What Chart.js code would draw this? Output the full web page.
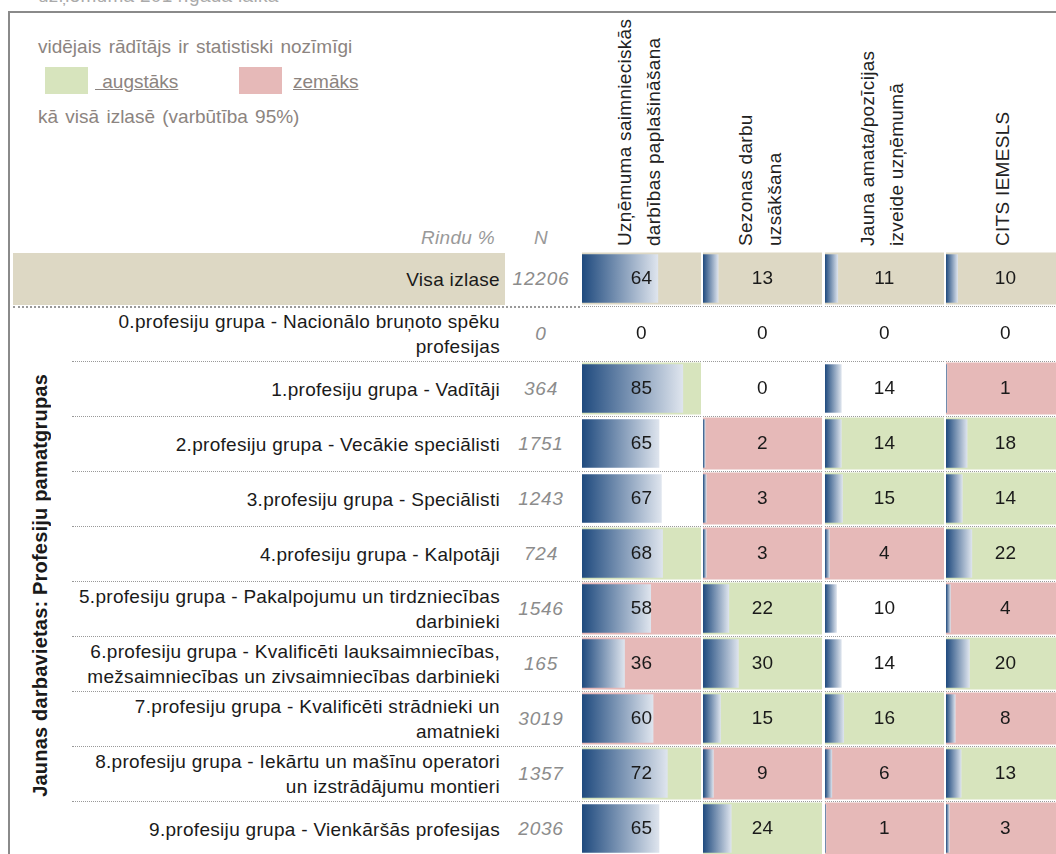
<!DOCTYPE html>
<html lang="lv">
<head>
  <meta charset="UTF-8">
  <title>Jaunas darbavietas – profesiju pamatgrupas</title>
  <script src="https://cdn.jsdelivr.net/npm/chart.js"></script>
  <style>
    /* lapa: fiksēts 1056x854 izmērs, tabulas izkārtojums ar absolūtiem blokiem */
    body {
      margin: 0;
      width: 1056px;
      height: 854px;
      position: relative;
      overflow: hidden;
      background: #fff;
      font-family: "Liberation Sans", Arial, sans-serif;
      font-size: 19px;
      letter-spacing: 0.3px;
      color: #1a1a1a;
    }
    .abs { position: absolute; white-space: nowrap; }
    .frame {
      left: 8px; top: 11px; width: 1100px; height: 900px;
      border-top: 2px solid #8a8a8a;
      border-left: 2px solid #8a8a8a;
    }
    .legend { color: #8c8480; line-height: 20px; word-spacing: 2px; letter-spacing: 0; }
    .swatch { width: 43px; height: 27px; }
    .under { text-decoration: underline; white-space: pre; }
    .muted { color: #999; font-style: italic; line-height: 20px; }
    .rowLabel {
      display: flex; align-items: center; justify-content: flex-end;
      text-align: right; line-height: 25px;
    }
    .nCell {
      display: flex; align-items: center; justify-content: center;
      color: #8c8c8c; font-style: italic; letter-spacing: 0.8px;
    }
    .dots { height: 0; border-top: 1px dotted #999; }
    .head {
      display: flex; justify-content: center; overflow: hidden;
    }
    .head div {
      writing-mode: vertical-rl;
      transform: rotate(180deg);
      line-height: 29px;
      color: #222;
      white-space: nowrap;
    }
    .side {
      display: flex; align-items: center; justify-content: center;
    }
    .side div {
      writing-mode: vertical-rl;
      transform: rotate(180deg);
      font-weight: bold;
      font-size: 20px;
      letter-spacing: 0.2px;
      white-space: nowrap;
    }
    canvas { position: absolute; }
  </style>
</head>
<body>
  <div class="abs muted" style="left:38px; top:-14px; font-style:normal; color:#aaa;">uzņēmumā 2014.gada laikā</div>
  <div class="abs frame"></div>

  <div class="abs legend" style="left:38px; top:37px;">vidējais rādītājs ir statistiski nozīmīgi</div>
  <div class="abs swatch" style="left:45px; top:67px; background:#d7e4bd;"></div>
  <div class="abs legend under" style="left:95px; top:72px;"> augstāks</div>
  <div class="abs swatch" style="left:239px; top:67px; background:#e6b9b8;"></div>
  <div class="abs legend under" style="left:293px; top:72px;">zemāks</div>
  <div class="abs legend" style="left:38px; top:107px;">kā visā izlasē (varbūtība 95%)</div>

  <div class="abs muted" style="left:300px; top:228px; width:195px; text-align:right;">Rindu %</div>
  <div class="abs muted" style="left:505px; top:228px; width:72px; text-align:center;">N</div>

  <div id="table"></div>

  <script>
    // dati nolasīti no attēla
    const rowLabels = [
      ['Visa izlase'],
      ['0.profesiju grupa - Nacionālo bruņoto spēku', 'profesijas'],
      ['1.profesiju grupa - Vadītāji'],
      ['2.profesiju grupa - Vecākie speciālisti'],
      ['3.profesiju grupa - Speciālisti'],
      ['4.profesiju grupa - Kalpotāji'],
      ['5.profesiju grupa - Pakalpojumu un tirdzniecības', 'darbinieki'],
      ['6.profesiju grupa - Kvalificēti lauksaimniecības,', 'mežsaimniecības un zivsaimniecības darbinieki'],
      ['7.profesiju grupa - Kvalificēti strādnieki un', 'amatnieki'],
      ['8.profesiju grupa - Iekārtu un mašīnu operatori', 'un izstrādājumu montieri'],
      ['9.profesiju grupa - Vienkāršās profesijas']
    ];
    const nValues = [12206, 0, 364, 1751, 1243, 724, 1546, 165, 3019, 1357, 2036];
    const sideTitle = 'Jaunas darbavietas: Profesiju pamatgrupas';

    const columnTitles = [
      ['Uzņēmuma saimnieciskās', 'darbības paplašināšana'],
      ['Sezonas darbu', 'uzsākšana'],
      ['Jauna amata/pozīcijas', 'izveide uzņēmumā'],
      ['CITS IEMESLS']
    ];
    const expansion   = [64, 0, 85, 65, 67, 68, 58, 36, 60, 72, 65];
    const seasonal    = [13, 0, 0, 2, 3, 3, 22, 30, 15, 9, 24];
    const newPosition = [11, 0, 14, 14, 15, 4, 10, 14, 16, 6, 1];
    const otherReason = [10, 0, 1, 18, 14, 22, 4, 20, 8, 13, 3];

    // nozīmīgums: v = visa izlase, g = augstāks, r = zemāks, '' = nav atšķirības
    const sigExpansion   = ['v', '', 'g', '', '', 'g', 'r', 'r', 'r', 'g', ''];
    const sigSeasonal    = ['v', '', '', 'r', 'r', 'r', 'g', 'g', 'g', 'r', 'g'];
    const sigNewPosition = ['v', '', '', 'g', 'g', 'r', '', '', 'g', 'r', 'r'];
    const sigOther       = ['v', '', 'r', 'g', 'g', 'g', 'r', 'g', 'r', 'g', 'r'];

    const columns = [
      { values: expansion, sig: sigExpansion },
      { values: seasonal, sig: sigSeasonal },
      { values: newPosition, sig: sigNewPosition },
      { values: otherReason, sig: sigOther }
    ];

    const sigColors = { v: '#ddd8c4', g: '#d7e4bd', r: '#e6b9b8', '': '#ffffff' };
    const darkBlue = '#1f4a7e';
    const lightBlue = '#dfe5ee';

    const ROW_TOP = 253, ROW_STEP = 55, CELL_H = 52;
    const colLeft = [582, 703, 825, 946];
    const COL_W = 119;

    // kreisā daļa: rindu nosaukumi, N, punktotās līnijas
    const table = document.getElementById('table');
    let html = '';
    html += `<div class="abs" style="left:13px; top:${ROW_TOP}px; width:492px; height:${CELL_H}px; background:${sigColors.v};"></div>`;
    rowLabels.forEach((lines, i) => {
      const top = ROW_TOP + i * ROW_STEP;
      html += `<div class="abs rowLabel" style="left:13px; top:${top}px; width:487px; height:${CELL_H}px;"><div>${lines.join('<br>')}</div></div>`;
      html += `<div class="abs nCell" style="left:505px; top:${top}px; width:72px; height:${CELL_H}px;">${nValues[i]}</div>`;
      if (i > 0) {
        const x0 = i === 1 ? 13 : 72;
        html += `<div class="abs dots" style="left:${x0}px; top:${top - 2}px; width:${580 - x0}px;${i === 1 ? ' border-top-width:2px;' : ''}"></div>`;
      }
    });
    html += `<div class="abs side" style="left:20px; top:308px; width:40px; height:554px;"><div>${sideTitle}</div></div>`;
    columnTitles.forEach((lines, k) => {
      html += `<div class="abs head" style="left:${colLeft[k] - 3}px; top:14px; width:${COL_W}px; height:232px;"><div>${lines.join('<br>')}</div></div>`;
    });
    table.innerHTML = html;

    // gradienta josla katrai vērtībai
    function barGradient(context) {
      const chart = context.chart;
      const x = chart.scales.x;
      if (!x || !chart.chartArea) return darkBlue;
      const x0 = x.getPixelForValue(0);
      const x1 = x.getPixelForValue(context.raw);
      const g = chart.ctx.createLinearGradient(x0, 0, Math.max(x1, x0 + 1), 0);
      g.addColorStop(0, darkBlue);
      g.addColorStop(1, lightBlue);
      return g;
    }

    // šūnu fons pēc nozīmīguma
    const cellFill = {
      id: 'cellFill',
      beforeDatasetsDraw(chart, args, opts) {
        const { ctx, scales: { x, y } } = chart;
        ctx.save();
        opts.sig.forEach((s, i) => {
          const yc = y.getPixelForValue(i);
          ctx.fillStyle = sigColors[s];
          const x0 = x.getPixelForValue(0);
          ctx.fillRect(x0, yc - CELL_H / 2, x.getPixelForValue(100) - x0, CELL_H);
        });
        ctx.restore();
      }
    };

    // skaitļi šūnu vidū
    const valueLabels = {
      id: 'valueLabels',
      afterDatasetsDraw(chart) {
        const { ctx, chartArea } = chart;
        const meta = chart.getDatasetMeta(0);
        const cx = (chartArea.left + chartArea.right) / 2;
        ctx.save();
        ctx.font = '19px "Liberation Sans", Arial, sans-serif';
        ctx.fillStyle = '#1a1a1a';
        ctx.textAlign = 'center';
        ctx.textBaseline = 'middle';
        meta.data.forEach((bar, i) => {
          ctx.fillText(String(chart.data.datasets[0].data[i]), cx, bar.y);
        });
        ctx.restore();
      }
    };

    columns.forEach((col, k) => {
      const canvas = document.createElement('canvas');
      canvas.width = COL_W;
      canvas.height = rowLabels.length * ROW_STEP;
      canvas.style.left = colLeft[k] + 'px';
      canvas.style.top = (ROW_TOP - 2) + 'px';
      document.body.appendChild(canvas);

      new Chart(canvas, {
        type: 'bar',
        data: {
          labels: rowLabels.map(l => l.join(' ')),
          datasets: [{
            data: col.values,
            backgroundColor: barGradient,
            borderWidth: 0,
            barPercentage: 0.88,
            categoryPercentage: 1
          }]
        },
        options: {
          indexAxis: 'y',
          responsive: false,
          animation: false,
          layout: { padding: 0 },
          plugins: {
            legend: { display: false },
            tooltip: { enabled: false },
            cellFill: { sig: col.sig }
          },
          scales: {
            x: { display: false, min: 0, max: 100 },
            y: {
              ticks: { display: false },
              grid: {
                drawTicks: false,
                lineWidth: 1,
                color: c => c.index === 0 ? 'rgba(0,0,0,0)' : '#9a9a9a'
              },
              border: { display: false, dash: [1, 1] }
            }
          }
        },
        plugins: [cellFill, valueLabels]
      });
    });
  </script>
</body>
</html>
